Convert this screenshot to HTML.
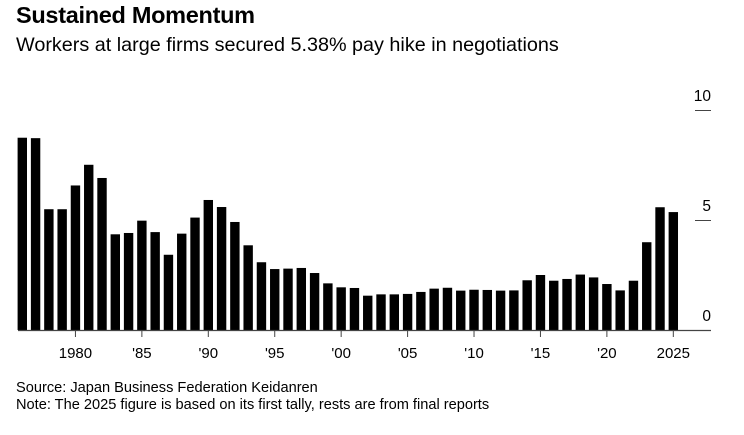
<!DOCTYPE html>
<html><head><meta charset="utf-8"><style>
body{margin:0;width:744px;height:435px;background:#fff;font-family:"Liberation Sans",sans-serif;color:#000;overflow:hidden;position:relative}
.t{position:absolute;left:16px;white-space:nowrap}
</style></head><body>
<div class="t" style="top:2px;font-size:23.5px;font-weight:bold;letter-spacing:-0.3px">Sustained Momentum</div>
<div class="t" style="top:34px;font-size:19.8px">Workers at large firms secured 5.38% pay hike in negotiations</div>
<svg id="c" width="744" height="435" style="position:absolute;left:0;top:0" font-family="Liberation Sans, sans-serif"></svg>
<div class="t" style="top:380px;font-size:14.6px">Source: Japan Business Federation Keidanren</div>
<div class="t" style="top:397px;font-size:14.6px">Note: The 2025 figure is based on its first tally, rests are from final reports</div>
<script>
const years=[1976,1977,1978,1979,1980,1981,1982,1983,1984,1985,1986,1987,1988,1989,1990,1991,1992,1993,1994,1995,1996,1997,1998,1999,2000,2001,2002,2003,2004,2005,2006,2007,2008,2009,2010,2011,2012,2013,2014,2015,2016,2017,2018,2019,2020,2021,2022,2023,2024,2025];
const values=[8.74,8.72,5.49,5.49,6.57,7.51,6.91,4.35,4.41,4.97,4.45,3.42,4.38,5.11,5.91,5.59,4.91,3.85,3.08,2.77,2.79,2.82,2.59,2.12,1.94,1.91,1.56,1.62,1.62,1.64,1.73,1.88,1.92,1.79,1.83,1.82,1.79,1.80,2.26,2.50,2.24,2.32,2.52,2.39,2.09,1.80,2.24,3.99,5.58,5.36];
const yTicks=[0,5,10];
const xTickYears=[1980,1985,1990,1995,2000,2005,2010,2015,2020,2025];
const xTickLabels=["1980","'85","'90","'95","'00","'05","'10","'15","'20","2025"];
const svg=document.getElementById('c');const NS='http://www.w3.org/2000/svg';
const x=y=>22.3+(y-1976)*13.286;
const yS=v=>330-v*22;
function mk(t,a){const e=document.createElementNS(NS,t);for(const k in a)e.setAttribute(k,a[k]);svg.appendChild(e);return e;}
years.forEach((yr,i)=>{
  const r=mk('rect',{x:x(yr)-4.7,y:yS(values[i]),width:9.4,height:330-yS(values[i]),fill:'#000'});
  
  
});
const base=mk('line',{x1:18,x2:711,y1:330.5,y2:330.5,stroke:'#444','stroke-width':1.3});


yTicks.forEach(v=>{
  if(v>0){const l=mk('line',{x1:695,x2:711,y1:yS(v)+0.5,y2:yS(v)+0.5,stroke:'#444','stroke-width':1});
  
  }
  const t=mk('text',{x:711,y:yS(v)-9,'text-anchor':'end','font-size':15.5});
  t.textContent=v;
  
  
});
xTickYears.forEach((yr,i)=>{
  const l=mk('line',{x1:x(yr),x2:x(yr),y1:330,y2:337,stroke:'#444','stroke-width':1});
  
  
  const t=mk('text',{x:x(yr),y:358,'text-anchor':'middle','font-size':15});
  t.textContent=xTickLabels[i];
  
  
});
</script>
</body></html>
